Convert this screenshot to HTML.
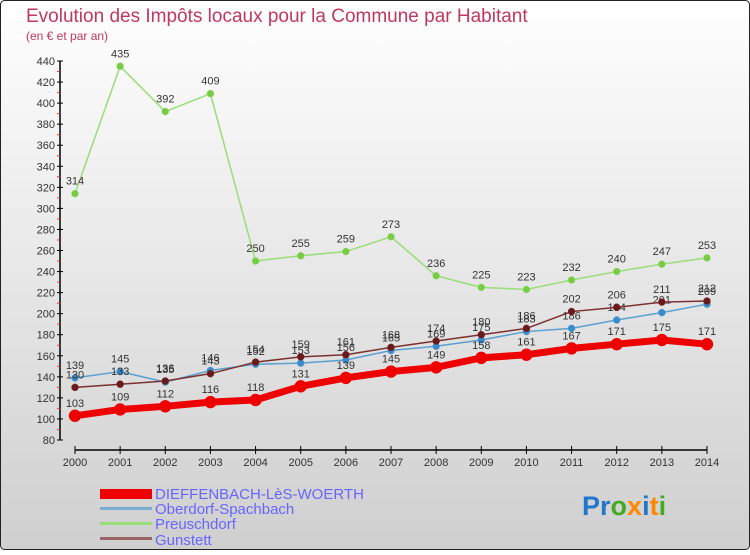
<!DOCTYPE html>
<html><head><meta charset="utf-8"><style>
body{margin:0;width:750px;height:550px;overflow:hidden;font-family:"Liberation Sans",sans-serif}
</style></head><body>
<svg width="750" height="550" xmlns="http://www.w3.org/2000/svg">
<defs><linearGradient id="bg" x1="0" y1="0" x2="0" y2="1"><stop offset="0" stop-color="#ffffff"/><stop offset="1" stop-color="#cfcfcf"/></linearGradient></defs>
<rect x="0.5" y="0.5" width="749" height="549" rx="4" fill="url(#bg)" stroke="#222"/>
<text x="26" y="22" font-size="19" fill="#c0385e">Evolution des Impôts locaux pour la Commune par Habitant</text>
<text x="26" y="40" font-size="12" fill="#c0385e">(en € et par an)</text>
<g id="axes"></g><g id="series"></g>
<g>
<rect x="100" y="489" width="52" height="10" fill="#ee0000"/>
<text x="155" y="499" font-size="15" fill="#6666ff">DIEFFENBACH-LèS-WOERTH</text>
<rect x="100" y="507" width="52" height="3" fill="#7aaed0"/>
<text x="155" y="514" font-size="15" fill="#6666ff">Oberdorf-Spachbach</text>
<rect x="100" y="522" width="52" height="3" fill="#99dd77"/>
<text x="155" y="529" font-size="15" fill="#6666ff">Preuschdorf</text>
<rect x="100" y="537" width="52" height="3" fill="#996666"/>
<text x="155" y="545" font-size="15" fill="#6666ff">Gunstett</text>
</g>
<text x="582" y="515" font-size="27" font-weight="bold"><tspan fill="#2277cc">Pr</tspan><tspan fill="#44aa22">o</tspan><tspan fill="#ff8800">x</tspan><tspan fill="#2277cc">i</tspan><tspan fill="#ff8800">t</tspan><tspan fill="#44aa22">i</tspan></text>
</svg>
<script>
const years=[2000,2001,2002,2003,2004,2005,2006,2007,2008,2009,2010,2011,2012,2013,2014];
const yTicks=[80,100,120,140,160,180,200,220,240,260,280,300,320,340,360,380,400,420,440];
const dieffenbach=[103,109,112,116,118,131,139,145,149,158,161,167,171,175,171];
const oberdorf=[139,145,135,146,152,153,156,165,169,175,183,186,194,201,209];
const preuschdorf=[314,435,392,409,250,255,259,273,236,225,223,232,240,247,253];
const gunstett=[130,133,136,143,154,159,161,168,174,180,186,202,206,211,212];
const NS="http://www.w3.org/2000/svg";
const X=i=>75+i*(707-75)/(years.length-1);
const Y=v=>440-(v-80)*(440-61)/360;
function mk(t,a,p){const e=document.createElementNS(NS,t);for(const k in a)e.setAttribute(k,a[k]);p.appendChild(e);return e;}
const ax=document.getElementById('axes');
const ya=mk('line',{x1:60,y1:Y(80),x2:60,y2:Y(440),stroke:'#000','stroke-width':1.5},ax);


yTicks.forEach(v=>{mk('line',{x1:57,y1:Y(v),x2:63,y2:Y(v),stroke:'#000'},ax);
if(v<440)mk('line',{x1:57,y1:Y(v+10),x2:60,y2:Y(v+10),stroke:'#e33'},ax);
const t=mk('text',{x:55,y:Y(v)+4,'font-size':11,fill:'#333','text-anchor':'end'},ax);t.textContent=v;

});
const xa=mk('line',{x1:75,y1:450,x2:707,y2:450,stroke:'#000','stroke-width':1.5},ax);


years.forEach((y,i)=>{mk('line',{x1:X(i),y1:446,x2:X(i),y2:454,stroke:'#000'},ax);
const t=mk('text',{x:X(i),y:466,'font-size':11,fill:'#333','text-anchor':'middle'},ax);t.textContent=y;

});
const sg=document.getElementById('series');
function draw(arr,name,col,fill,w,r){
const g=mk('g',{},sg);


mk('polyline',{points:arr.map((v,i)=>X(i)+','+Y(v)).join(' '),fill:'none',stroke:col,'stroke-width':w,'stroke-linejoin':'round'},g);
arr.forEach((v,i)=>{const c=mk('circle',{cx:X(i),cy:Y(v),r:r,fill:fill,stroke:col,'stroke-width':0.5},g);


const t=mk('text',{x:X(i),y:Y(v)-9,'font-size':11,fill:'#333','text-anchor':'middle'},g);t.textContent=v;

});}
draw(preuschdorf,'preuschdorf','#99dd77','#77cc44',1.5,3.5);
draw(oberdorf,'oberdorf','#5aa0d0','#3a8ccc',1.5,3.5);
draw(gunstett,'gunstett','#7a3030','#6a1a1a',1.5,3.5);
draw(dieffenbach,'dieffenbach','#ee0000','#ee0000',7,6);
</script>
</body></html>
